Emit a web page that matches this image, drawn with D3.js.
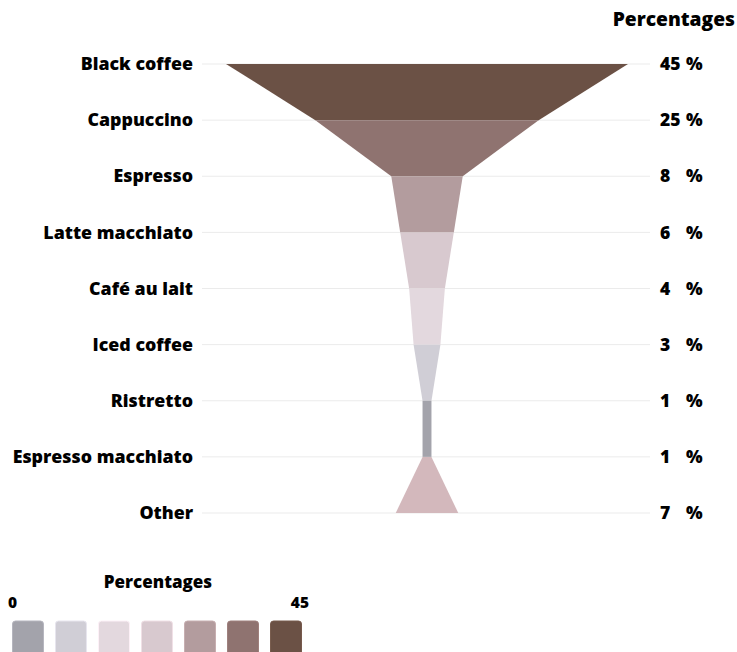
<!DOCTYPE html>
<html><head><meta charset="utf-8">
<script src="https://cdn.jsdelivr.net/npm/d3@7"></script>
<style>body{margin:0;background:#fff;font-family:"Open Sans",sans-serif;}</style>
</head><body><svg id="c" width="737" height="652"></svg>
<script>
const categories = ["Black coffee","Cappuccino","Espresso","Latte macchiato","Café au lait","Iced coffee","Ristretto","Espresso macchiato","Other"];
const values = [45,25,8,6,4,3,1,1,7];
const bandColors = ["#6b5145","#8f7370","#b39c9e","#d8c9cf","#e3d8de","#d0ced6","#a3a3ab","#d3b8bc"];
const legendColors = ["#a3a3ab","#d0ced6","#e3d8de","#d8c9cf","#b39c9e","#8f7370","#6b5145"];
const legendTicks = ["0","45"];
const data = categories.map((c,i)=>({c, v: values[i]}));

const svg = d3.select("#c");
const y = d3.scalePoint().domain(categories).range([64,513]);
const w = d3.scaleLinear().domain([0,45]).range([0,201]);
const cx = 427;

// grid
svg.append("g").selectAll("line").data(categories).join("line")
  .attr("x1",202).attr("x2",650).attr("y1",d=>y(d)).attr("y2",d=>y(d))
  .attr("stroke","#ebebeb").attr("stroke-width",1);

const area = d3.area().y(d=>y(d.c)).x0(d=>cx - w(d.v)).x1(d=>cx + w(d.v));
svg.append("g").selectAll("path").data(d3.range(data.length-1)).join("path")
  .attr("d", i=>area([data[i], data[i+1]]))
  .attr("fill", i=>bandColors[i]);

// left labels
svg.append("g").selectAll("text").data(categories).join("text")
  .attr("x",193).attr("y",d=>y(d)).attr("dy","0.35em").attr("text-anchor","end")
  .attr("font-size",17.8).attr("font-weight",800).attr("fill","#000").text(d=>d);

// right labels
const rl = svg.append("g").selectAll("g").data(data).join("g")
  .attr("transform",d=>`translate(0,${y(d.c)})`);
rl.append("text").attr("x",660).attr("dy","0.35em").attr("font-size",17.5).attr("font-weight",800).text(d=>d.v);
rl.append("text").attr("x",686).attr("dy","0.35em").attr("font-size",17.5).attr("font-weight",800).text("%");

svg.append("text").attr("x",735).attr("y",26).attr("text-anchor","end")
  .attr("font-size",19.2).attr("font-weight",800).text("Percentages");

// legend
const lg = svg.append("g");
lg.append("text").attr("x",158).attr("y",588).attr("text-anchor","middle")
  .attr("font-size",17).attr("font-weight",800).text("Percentages");
lg.append("text").attr("x",8).attr("y",608).attr("font-size",15.5).attr("font-weight",800).text(legendTicks[0]);
lg.append("text").attr("x",309).attr("y",608).attr("text-anchor","end").attr("font-size",15.5).attr("font-weight",800).text(legendTicks[1]);
const lx = d3.scaleBand().domain(d3.range(legendColors.length)).range([12.5,301.5]).paddingInner(0.28);
lg.selectAll("rect").data(legendColors).join("rect")
  .attr("x",(d,i)=>lx(i)).attr("y",621).attr("width",lx.bandwidth()).attr("height",34)
  .attr("rx",3).attr("fill",d=>d).attr("stroke",d=>d3.color(d).brighter(0.3)).attr("stroke-width",1);
</script></body></html>
